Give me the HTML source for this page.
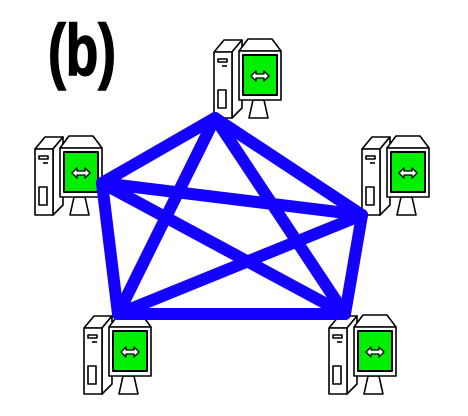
<!DOCTYPE html>
<html><head><style>
html,body{margin:0;padding:0;background:#fff;width:468px;height:416px;overflow:hidden}
</style></head><body>
<svg width="468" height="416" viewBox="0 0 468 416" xmlns="http://www.w3.org/2000/svg">
<defs>
<g id="pc" stroke="#000" stroke-width="1.6" fill="#fff" stroke-linejoin="round">
  <path d="M0 14 L10 2 L28 2 L18 14 Z"/>
  <path d="M18 14 L28 2 L28 70 L18 80 Z"/>
  <rect x="0" y="14" width="18" height="66"/>
  <rect x="4" y="21" width="9" height="3"/>
  <line x1="8" y1="28" x2="13" y2="28"/>
  <rect x="4" y="52" width="8" height="18"/>
  <path d="M25 13 L34 1 L58 1 L67 13 Z"/>
  <path d="M39 62 L35 80 L54 80 L50 62 Z"/>
  <rect x="25" y="13" width="42" height="49"/>
  <rect x="29" y="17" width="34" height="40" fill="#00ee00" stroke-width="2"/>
  <path d="M37 38 L42 33 L42 36 L50 36 L50 33 L55 38 L50 43 L50 40 L42 40 L42 43 Z" stroke-width="1.3"/>
</g>
</defs>
<text x="0" y="0" transform="translate(48,75) scale(0.74,1)" font-family="Liberation Sans, sans-serif" font-weight="bold" font-size="72" stroke="#000" stroke-width="1.5">(b)</text>
<use href="#pc" x="214" y="38"/>
<use href="#pc" x="35" y="135"/>
<use href="#pc" x="362" y="135"/>
<use href="#pc" x="84" y="314"/>
<use href="#pc" x="329" y="314"/>
<g stroke="#1400ff" stroke-width="12" stroke-linecap="round" stroke-linejoin="round" fill="none">
  <polygon points="215,118 362,215 345,314 118,314 102,183"/>
  <line x1="215" y1="118" x2="345" y2="314"/>
  <line x1="215" y1="118" x2="118" y2="314"/>
  <line x1="102" y1="183" x2="362" y2="215"/>
  <line x1="102" y1="183" x2="345" y2="314"/>
  <line x1="362" y1="215" x2="118" y2="314"/>
</g>
</svg>
</body></html>
